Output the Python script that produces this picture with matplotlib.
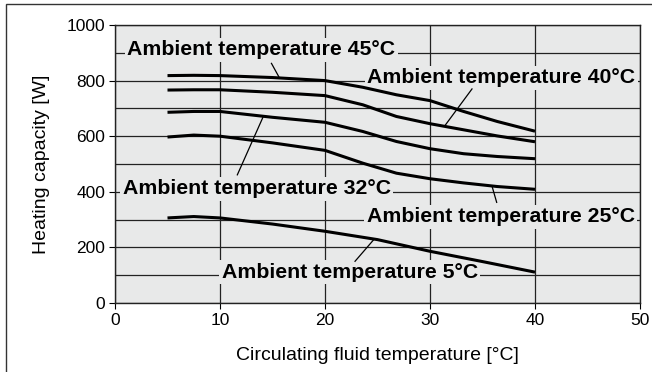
import matplotlib
matplotlib.use("Agg")
import matplotlib.pyplot as plt
from matplotlib.patches import Rectangle

plt.rcParams['font.family'] = ['Liberation Sans', 'DejaVu Sans']

# circulating fluid temperature [°C]
fluid_temp = [5, 7.5, 10, 15, 20, 23.6, 26.8, 30, 33.2, 36.4, 40]
# heating capacity [W] per ambient temperature
cap_45 = [818, 819, 818, 811, 800, 776, 749, 728, 689, 653, 618]
cap_40 = [766, 767, 767, 758, 746, 713, 671, 645, 623, 601, 580]
cap_32 = [686, 689, 689, 668, 650, 617, 581, 555, 537, 527, 519]
cap_25 = [597, 604, 600, 576, 549, 503, 467, 447, 432, 419, 409]

fluid_temp_5 = [5, 7.5, 10, 15, 20, 25, 30, 35, 40]
cap_5 = [306, 311, 306, 284, 258, 228, 186, 149, 111]

labels = ['Ambient temperature 45°C', 'Ambient temperature 40°C',
          'Ambient temperature 32°C', 'Ambient temperature 25°C',
          'Ambient temperature 5°C']

bg = '#e8e9e9'

fig = plt.figure(figsize=(6.52, 3.72), dpi=100)
ax = fig.add_axes([115/652, 69/372, 525/652, 278/372])
ax.set_facecolor(bg)

for y in [cap_45, cap_40, cap_32, cap_25]:
    ax.plot(fluid_temp, y, color='black', lw=2.2, zorder=4,
            solid_capstyle='butt', solid_joinstyle='round')
ax.plot(fluid_temp_5, cap_5, color='black', lw=2.2, zorder=4,
        solid_capstyle='butt', solid_joinstyle='round')

ax.set_xlim(0, 50)
ax.set_ylim(0, 1000)
ax.set_xticks(range(0, 51, 10))
ax.set_yticks(range(0, 1001, 200))
ax.set_yticks(range(0, 1001, 100), minor=True)
ax.grid(True, which='both', color='#222222', lw=0.9, zorder=0.5)
ax.set_axisbelow(True)
ax.tick_params(axis='both', which='major', direction='out', length=4,
               width=0.8, labelsize=12.5, pad=3)
ax.tick_params(axis='y', which='minor', length=0)
for s in ax.spines.values():
    s.set_linewidth(1.0)
    s.set_color('#222222')

ax.set_xlabel('Circulating fluid temperature [°C]', fontsize=14, labelpad=14)
ax.set_ylabel('Heating capacity [W]', fontsize=14, labelpad=12)

# label centre x, gridline y, leader line start/end
label_pos = [(13.95, 900), (36.8, 800), (13.5, 400), (36.75, 300), (22.35, 100)]
leaders = [((14.9, 862), (15.6, 814)),
           ((34.0, 770), (31.4, 637)),
           ((14.1, 669), (11.65, 461)),
           ((35.9, 421), (36.35, 362)),
           ((24.6, 226), (22.86, 150))]

for text, (lx, ly), (p0, p1) in zip(labels, label_pos, leaders):
    ax.text(lx, ly - 9, text, ha='center', va='baseline', fontsize=15.3,
            fontweight='bold', zorder=3,
            bbox=dict(boxstyle='square,pad=0.12', fc=bg, ec='none'))
    ax.plot([p0[0], p1[0]], [p0[1], p1[1]], color='black', lw=0.9, zorder=3.5)

# outer frame
fig.patches.append(Rectangle((6/652, -0.1), 1.2, 1.1 - 4/372,
                             transform=fig.transFigure, fill=False,
                             ec='#333333', lw=1.0))

fig.savefig('out.png', dpi=100)
